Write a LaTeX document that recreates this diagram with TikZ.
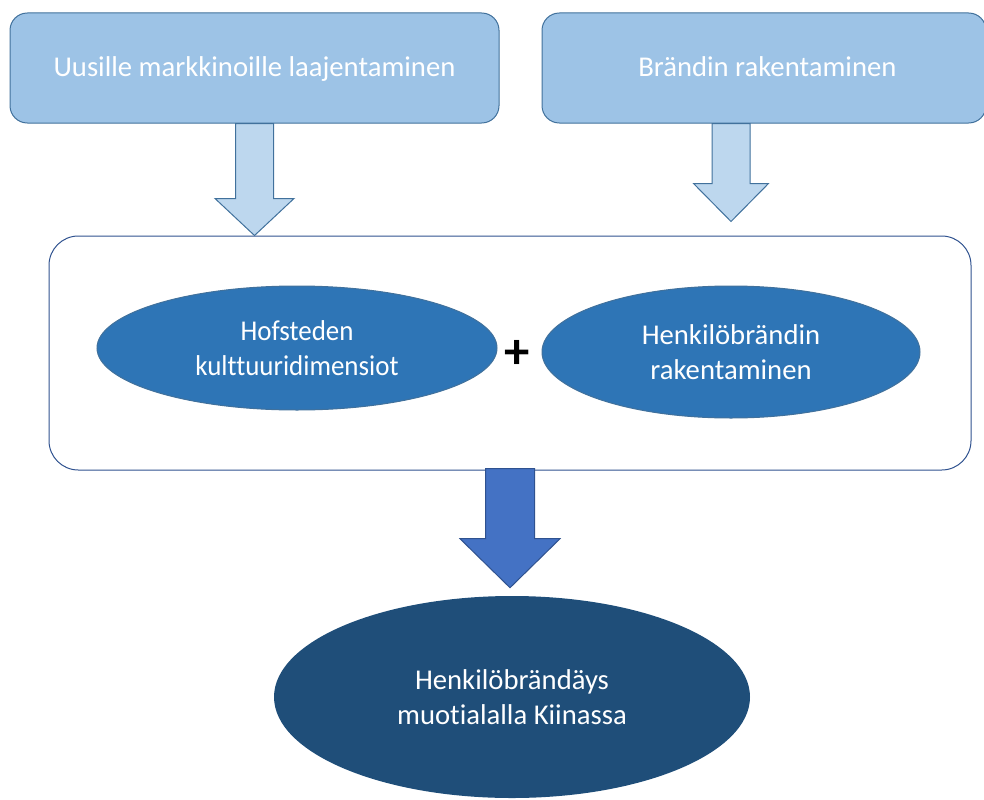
\documentclass[tikz,border=0pt]{standalone}
\usepackage{fontspec}
\setmainfont{Carlito}[Ligatures=NoCommon]
\newfontfamily\narrowcarlito{Carlito}[Ligatures=NoCommon,FakeStretch=0.94]
\usepackage{xcolor}
\usetikzlibrary{shapes.geometric}
\usetikzlibrary{calc}

\definecolor{lightfill}{HTML}{9DC3E6}
\definecolor{paleblue}{HTML}{BDD7EE}
\definecolor{edgeblue}{HTML}{41719C}
\definecolor{midblue}{HTML}{2E75B6}
\definecolor{arrowblue}{HTML}{4472C4}
\definecolor{arrowedge}{HTML}{2F528F}
\definecolor{darkblue}{HTML}{1F4E79}

% block arrow pointing down: style, from, to, shaft half width, head half width, head length
\newcommand{\downblock}[6]{%
  \draw [#1] ($(#2)+(-#4,0)$) -- ($(#3)+(-#4,-#6)$) -- ($(#3)+(-#5,-#6)$) -- (#3)
    -- ($(#3)+(#5,-#6)$) -- ($(#3)+(#4,-#6)$) -- ($(#2)+(#4,0)$) -- cycle;}

\begin{document}
\begin{tikzpicture}[x=0.75pt,y=-0.75pt,
  bigfont/.style={font=\fontsize{21.5}{25.8}\selectfont},
  topbox/.style={bigfont, draw=edgeblue, fill=lightfill, line width=0.75pt, rounded corners=13pt,
    minimum height=82.5pt, inner sep=0pt, text=white, text depth=2pt},
  blob/.style={bigfont, ellipse, draw=edgeblue, fill=midblue, line width=0.75pt, inner sep=0pt,
    text=white, align=center},
  paleflow/.style={draw=edgeblue, fill=paleblue, line width=0.75pt, line join=miter},
  darkflow/.style={draw=arrowedge, fill=arrowblue, line width=0.75pt, line join=miter}]
\useasboundingbox (0,0) rectangle (984,799);

% the two starting points
\node [topbox, minimum width=366.75pt] (grow) at (254.5,68) {Uusille markkinoille laajentaminen};
\node [topbox, minimum width=333pt] (brand) at (764,68) {\hspace{5pt}Brändin rakentaminen};

% frame round the two theories
\node [draw=arrowedge, line width=0.75pt, rounded corners=22pt, minimum width=691.5pt,
  minimum height=175.5pt] (frame) at (510,353) {};
\node [blob, minimum width=300pt, minimum height=93pt] (hof) at (297,348)
  {\narrowcarlito Hofsteden\\\narrowcarlito kulttuuridimensiot};
\node [blob, minimum width=283.5pt, minimum height=99pt] (pers) at (731,352) {Henkilöbrändin\\rakentaminen};
\node [font=\fontsize{38}{38}\selectfont\bfseries] (plus) at (517,354) {+};

% result
\node [bigfont, ellipse, fill=darkblue, text=white, align=center, inner sep=0pt,
  minimum width=357pt, minimum height=151.5pt] (goal) at (512,697) {Henkilöbrändäys\\muotialalla Kiinassa};

% arrows
\coordinate (tip1) at (grow.south |- frame.north);
\coordinate (tip2) at ($(pers |- frame.north)+(0,-14)$);
\coordinate (tip3) at ($(frame.south |- goal.north)+(0,-8)$);
\downblock{paleflow}{grow.south}{tip1}{19}{39.5}{37}
\downblock{paleflow}{pers |- brand.south}{tip2}{19}{37.5}{38}
\downblock{darkflow}{$(frame.south)+(0,-2)$}{tip3}{24.5}{50}{49}

\end{tikzpicture}
\end{document}
